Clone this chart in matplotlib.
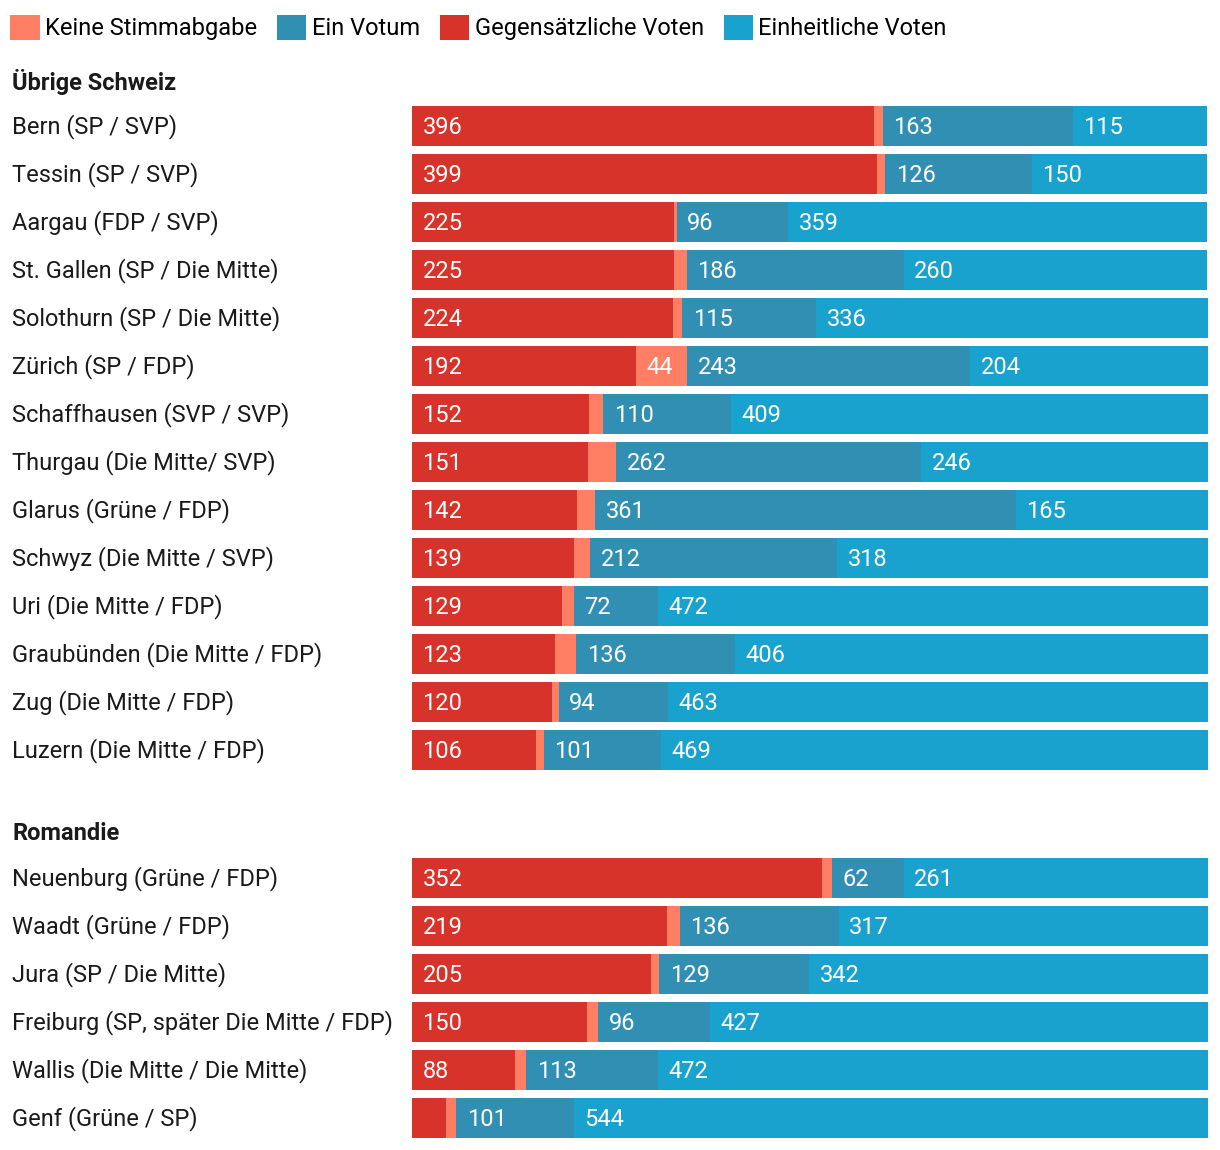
import matplotlib.pyplot as plt
from matplotlib.patches import Patch
from matplotlib.transforms import blended_transform_factory

plt.rcParams['font.family'] = ['Roboto', 'DejaVu Sans']

# Daten
kantone_ch = ['Bern (SP / SVP)', 'Tessin (SP / SVP)', 'Aargau (FDP / SVP)',
              'St. Gallen (SP / Die Mitte)', 'Solothurn (SP / Die Mitte)',
              'Zürich (SP / FDP)', 'Schaffhausen (SVP / SVP)', 'Thurgau (Die Mitte/ SVP)',
              'Glarus (Grüne / FDP)', 'Schwyz (Die Mitte / SVP)', 'Uri (Die Mitte / FDP)',
              'Graubünden (Die Mitte / FDP)', 'Zug (Die Mitte / FDP)', 'Luzern (Die Mitte / FDP)']
kantone_rom = ['Neuenburg (Grüne / FDP)', 'Waadt (Grüne / FDP)', 'Jura (SP / Die Mitte)',
               'Freiburg (SP, später Die Mitte / FDP)', 'Wallis (Die Mitte / Die Mitte)',
               'Genf (Grüne / SP)']
groups = ['Übrige Schweiz', 'Romandie']

gegen_ch = [396, 399, 225, 225, 224, 192, 152, 151, 142, 139, 129, 123, 120, 106]
keine_ch = [8, 7, 2, 11, 8, 44, 12, 24, 15, 14, 10, 18, 6, 7]
ein_ch = [163, 126, 96, 186, 115, 243, 110, 262, 361, 212, 72, 136, 94, 101]
einh_ch = [115, 150, 359, 260, 336, 204, 409, 246, 165, 318, 472, 406, 463, 469]

gegen_rom = [352, 219, 205, 150, 88, 29]
keine_rom = [8, 11, 7, 10, 10, 9]
ein_rom = [62, 136, 129, 96, 113, 101]
einh_rom = [261, 317, 342, 427, 472, 544]

series = ['Gegensätzliche Voten', 'Keine Stimmabgabe', 'Ein Votum', 'Einheitliche Voten']
colors = {'Keine Stimmabgabe': '#fe7f63', 'Ein Votum': '#328fb4',
          'Gegensätzliche Voten': '#d7332b', 'Einheitliche Voten': '#1aa2cf'}
legend_order = ['Keine Stimmabgabe', 'Ein Votum', 'Gegensätzliche Voten', 'Einheitliche Voten']

fig = plt.figure(figsize=(12.2, 11.5), dpi=100)
ax = fig.add_axes([412 / 1220, 0, 796 / 1220, 1])
ax.set_ylim(1150, 0)
ax.axis('off')
trans = blended_transform_factory(fig.transFigure, ax.transData)

# y-Positionen in Pixeln (Zeilenabstand 48, Gruppenkopf darüber)
blocks = [(groups[0], kantone_ch, [gegen_ch, keine_ch, ein_ch, einh_ch], 126),
          (groups[1], kantone_rom, [gegen_rom, keine_rom, ein_rom, einh_rom], 878)]

total = max(sum(v) for v in zip(gegen_ch, keine_ch, ein_ch, einh_ch))
ax.set_xlim(0, total)

for title, names, vals, y0 in blocks:
    ys = [y0 + 48 * i for i in range(len(names))]
    fig.text(12 / 1220, 1 - (y0 - 44) / 1150, title, fontsize=17, fontweight='bold',
             color='#1a1a1a', va='center', ha='left')
    left = [0] * len(names)
    for s, v in zip(series, vals):
        ax.barh(ys, v, left=left, height=40, color=colors[s], linewidth=0)
        for y, l, val in zip(ys, left, v):
            if val >= 40:
                ax.text(l + 9, y + 1, str(val), color='white', fontsize=17,
                        va='center', ha='left')
        left = [a + b for a, b in zip(left, v)]
    for y, n in zip(ys, names):
        ax.text(12 / 1220, y + 1, n, transform=trans, fontsize=17, color='#1a1a1a',
                va='center', ha='left')

handles = [Patch(facecolor=colors[s], edgecolor='none') for s in legend_order]
fig.legend(handles, legend_order, loc='upper left', bbox_to_anchor=(10 / 1220, 1 - 15 / 1150),
           ncol=4, frameon=False, fontsize=17, handlelength=1.25, handleheight=1.25,
           handletextpad=0.22, columnspacing=0.85, borderaxespad=0, borderpad=0)

fig.savefig('out.png', dpi=100)
